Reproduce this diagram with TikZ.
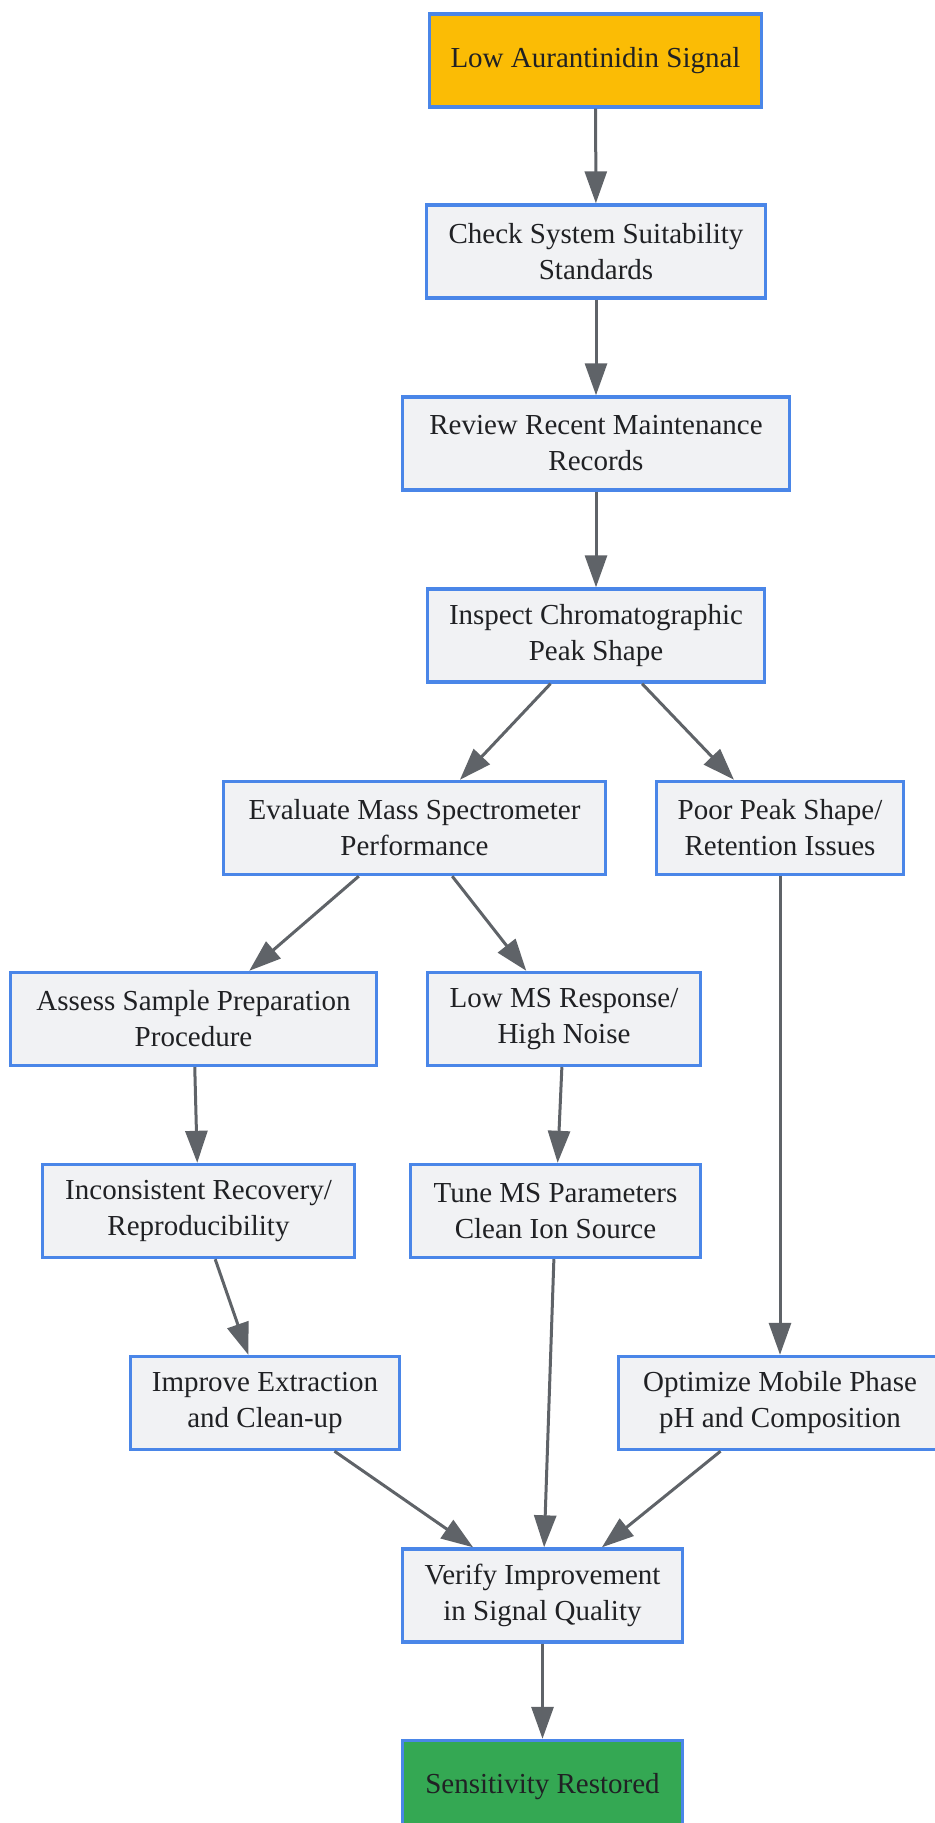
\documentclass[tikz,border=0pt]{standalone}
\usepackage{fontspec}
\setmainfont{Liberation Serif}
\usetikzlibrary{arrows.meta}
\definecolor{boxblue}{HTML}{4A86E8}
\definecolor{boxgrey}{HTML}{F1F2F4}
\definecolor{startyellow}{HTML}{FBBC05}
\definecolor{endgreen}{HTML}{34A853}
\definecolor{linegrey}{HTML}{5F6368}
\definecolor{textdark}{HTML}{202124}

\begin{document}
\begin{tikzpicture}[x=0.5pt,y=-0.5pt,
   box/.style={draw=boxblue,fill=boxgrey,line width=1.7pt,minimum height=46.5pt,
      align=center,text=textdark,inner sep=0pt,
      font=\fontsize{14.5pt}{18pt}\selectfont},
   link/.style={draw=linegrey,line width=1.5pt,-{Triangle[length=16pt,width=11pt]}}]
   \clip (0,0) rectangle (935,1823);
   \useasboundingbox (0,0) rectangle (935,1823);

   \node[box,fill=startyellow,minimum width=166pt] (low) at (595.5,60.5) {Low Aurantinidin Signal};
   \node[box,minimum width=169.5pt] (check) at (596,251.5) {Check System Suitability\\Standards};
   \node[box,minimum width=193.5pt] (review) at (596,443.5) {Review Recent Maintenance\\Records};
   \node[box,minimum width=168.5pt] (inspect) at (596,635.5) {Inspect Chromatographic\\Peak Shape};
   \node[box,minimum width=191pt] (evalms) at (414.5,828) {Evaluate Mass Spectrometer\\Performance};
   \node[box,minimum width=123.5pt] (poorpeak) at (780,828) {Poor Peak Shape/\\Retention Issues};
   \node[box,minimum width=183pt] (assess) at (193.5,1019) {Assess Sample Preparation\\Procedure};
   \node[box,minimum width=136.5pt] (lowms) at (564,1019) {Low MS Response/\\High Noise};
   \node[box,minimum width=156pt] (inconsistent) at (198.5,1211) {Inconsistent Recovery/\\Reproducibility};
   \node[box,minimum width=145pt] (tune) at (555.5,1211) {Tune MS Parameters\\Clean Ion Source};
   \node[box,minimum width=134.5pt] (improve) at (265,1403) {Improve Extraction\\and Clean-up};
   \node[box,minimum width=161.5pt] (optimize) at (780,1403) {Optimize Mobile Phase\\pH and Composition};
   \node[box,minimum width=140pt] (verify) at (542.5,1595.5) {Verify Improvement\\in Signal Quality};
   \node[box,fill=endgreen,minimum width=140pt] (restored) at (542.5,1787) {Sensitivity Restored};

   \draw[link] (low) -- (check);
   \draw[link] (check) -- (review);
   \draw[link] (review) -- (inspect);
   \draw[link] (inspect) -- (evalms);
   \draw[link] (inspect) -- (poorpeak);
   \draw[link] (evalms) -- (assess);
   \draw[link] (evalms) -- (lowms);
   \draw[link] (assess) -- (inconsistent);
   \draw[link] (lowms) -- (tune);
   \draw[link] (poorpeak) -- (optimize);
   \draw[link] (inconsistent) -- (improve);
   \draw[link] (tune) -- (verify);
   \draw[link] (improve) -- (verify);
   \draw[link] (optimize) -- (verify);
   \draw[link] (verify) -- (restored);
\end{tikzpicture}
\end{document}
